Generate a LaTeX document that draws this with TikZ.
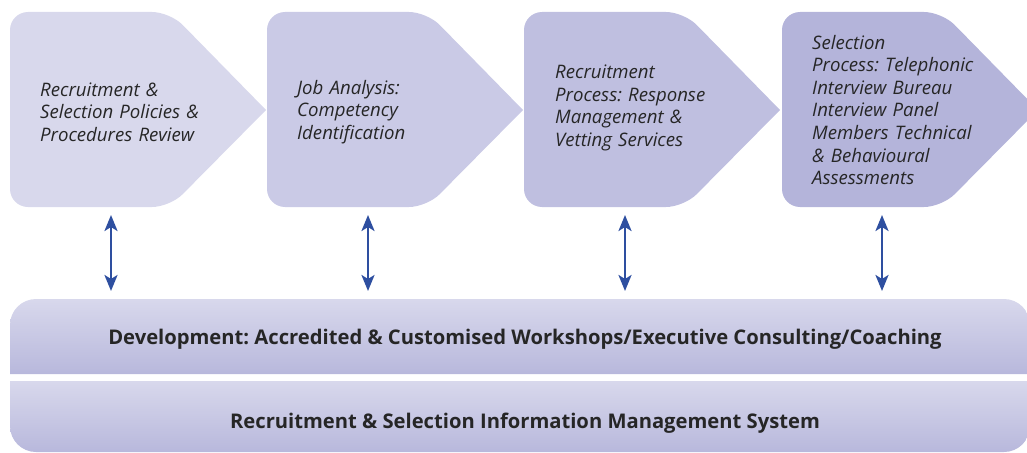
\documentclass[tikz,border=0pt]{standalone}
\usepackage{fontspec}
\setmainfont{Open Sans}
\usetikzlibrary{arrows.meta}
\definecolor{cA}{HTML}{D8D8EC}
\definecolor{cB}{HTML}{CACAE6}
\definecolor{cC}{HTML}{BFBFE0}
\definecolor{cD}{HTML}{B4B4DA}
\definecolor{barTop}{HTML}{D8D8EC}
\definecolor{barBot}{HTML}{B8B8DC}
\definecolor{txt}{HTML}{262626}
\definecolor{arrowblue}{HTML}{2E4FA0}
\tikzset{
  steptext/.style={anchor=west, align=left, text width=200pt, font=\fontsize{18.6}{22.6}\selectfont\itshape\frenchspacing, text=txt, inner sep=0pt},
  bartext/.style={font=\fontsize{20.2}{24}\selectfont\bfseries\frenchspacing, text=txt, inner sep=0pt},
  link/.style={draw=arrowblue, line width=2.6pt, {Stealth[length=16pt,width=13pt,inset=4pt]}-{Stealth[length=16pt,width=13pt,inset=4pt]}},
}
\newcommand{\chev}[2]{%
  \fill[#2, rounded corners=18pt] (#1,207) -- (#1,12) -- ({#1+160},12) [sharp corners] -- ({#1+256},110) [rounded corners=18pt] -- ({#1+160},207) -- cycle;}
\begin{document}
\begin{tikzpicture}[x=1pt,y=-1pt]
\useasboundingbox (0,0) rectangle (1027,452);
\chev{10}{cA}
\chev{267}{cB}
\chev{524}{cC}
\chev{782}{cD}
\node[steptext] (s1) at (40,112) {Recruitment \&\\Selection Policies \&\\Procedures Review};
\node[steptext] (s2) at (297,112) {Job Analysis:\\Competency\\Identification};
\node[steptext] (s3) at (555,108) {Recruitment\\Process: Response\\Management \&\\Vetting Services};
\node[steptext] (s4) at (812,110) {Selection\\Process: Telephonic\\Interview Bureau\\Interview Panel\\Members Technical\\\& Behavioural\\Assessments};
% bars
\shade[top color=barTop, bottom color=barBot] (10,374) -- (10,325) arc[start angle=180, end angle=270, radius=26] -- (1004,299) arc[start angle=270, end angle=360, radius=26] -- (1030,374) -- cycle;
\shade[top color=barTop, bottom color=barBot] (10,381) -- (10,426) arc[start angle=180, end angle=90, radius=26] -- (1004,452) arc[start angle=90, end angle=0, radius=26] -- (1030,381) -- cycle;
\node[bartext] (b1) at (525,339) {Development: Accredited \& Customised Workshops/Executive Consulting/Coaching};
\node[bartext] (b2) at (525,423) {Recruitment \& Selection Information Management System};
\foreach \i/\x in {1/111,2/368,3/625,4/882}{
  \coordinate (t\i) at (\x,215);
  \coordinate (u\i) at (\x,291);
  \draw[link] (t\i) -- (u\i);
}
\end{tikzpicture}
\end{document}
